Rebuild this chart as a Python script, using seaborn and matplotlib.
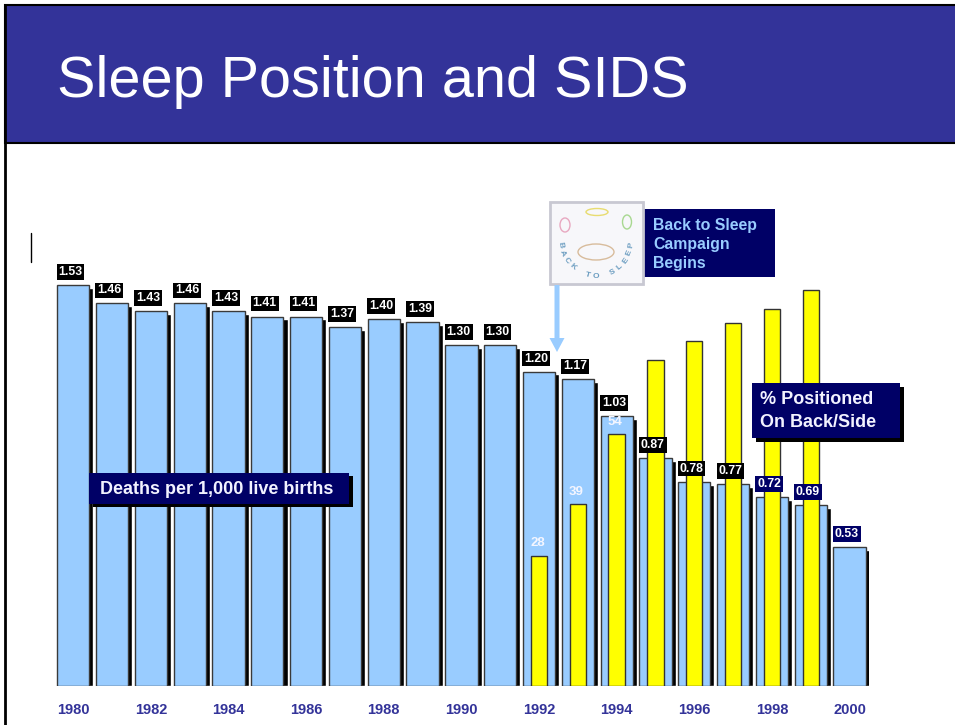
import numpy as np
import matplotlib
matplotlib.use("Agg")
import matplotlib.pyplot as plt
from matplotlib.patches import Rectangle, Ellipse
import seaborn as sns

# data
years = list(range(1980, 2001))
deaths = [1.53, 1.46, 1.43, 1.46, 1.43, 1.41, 1.41, 1.37, 1.40, 1.39, 1.30, 1.30,
          1.20, 1.17, 1.03, 0.87, 0.78, 0.77, 0.72, 0.69, 0.53]
pct_years = list(range(1992, 2000))
pct_back = [28, 39, 54, 70, 74, 78, 81, 85]
pct_shown = [1992, 1993, 1994]  # years whose % value is printed
title = "Sleep Position and SIDS"

sns.set_style("white")
plt.rcParams["font.family"] = ["Liberation Sans", "DejaVu Sans"]

W, H = 955, 725
fig = plt.figure(figsize=(W / 100, H / 100), dpi=100)

# main axes: baseline at y=686px, 262 px per death unit
base, top = 686, 150
ax = fig.add_axes([53.9 / W, (H - base) / H, 815 / W, (base - top) / H])
ylim1 = (base - top) / 262
ylim2 = (base - top) / 4.66

names = [str(y) for y in years]
n = len(years)
x = np.arange(n)

# black drop shadows
ax.bar(x + 0.105, np.array(deaths) - 0.011, width=0.83, color="black", zorder=0.5)
sns.barplot(x=names, y=deaths, order=names, color="#99CCFF", saturation=1,
            width=0.83, edgecolor="#3a3a3a", linewidth=1, ax=ax, zorder=1)
ax.set_xlim(-0.5, n - 0.5)
ax.set_ylim(0, ylim1)
ax.set_xticks(range(0, n, 2))
ax.set_xticklabels(names[::2], fontsize=10.5, fontweight="bold", color="#333399")
ax.tick_params(axis="x", length=0, pad=12)
ax.set_yticks([])
ax.set_xlabel("")
ax.set_ylabel("")
for s in ax.spines.values():
    s.set_visible(False)

# percent on back/side, twin axis
ax2 = ax.twinx()
sns.barplot(x=[str(y) for y in pct_years], y=pct_back, order=names, color="#FFFF00",
            saturation=1, width=0.42, edgecolor="#333333", linewidth=1, ax=ax2)
ax2.set_xlim(-0.5, n - 0.5)
ax2.set_ylim(0, ylim2)
ax2.set_yticks([])
ax2.set_xlabel("")
ax2.set_ylabel("")
ax2.tick_params(axis="x", length=0, labelbottom=False)
for s in ax2.spines.values():
    s.set_visible(False)

for i, (yr, v) in enumerate(zip(years, deaths)):
    box = "#000066" if yr >= 1998 else "black"
    ax2.text(i - 0.07, v + 0.05, f"{v:.2f}", transform=ax.transData,
             ha="center", va="center", fontsize=8.8, fontweight="bold", color="white",
             bbox=dict(boxstyle="square,pad=0.15", fc=box, ec="none"))

for yr, v in zip(pct_years, pct_back):
    if yr in pct_shown:
        ax2.text(years.index(yr) - 0.04, v + 2.6, str(v), ha="center", va="center",
                 fontsize=9.5, fontweight="bold", color="#F4F6FF")

# overlay in pixel coordinates for the slide decorations
ov = fig.add_axes([0, 0, 1, 1], zorder=5)
ov.set_xlim(0, W)
ov.set_ylim(H, 0)
ov.axis("off")
ov.patch.set_visible(False)

ov.add_patch(Rectangle((5, 5), 960, 138, fc="#333399", ec="black", lw=1.5))
ov.plot([5, 5], [5, H], color="black", lw=2)
ov.plot([31, 31], [233, 262], color="black", lw=1)
ov.text(57, 97, title, fontsize=41.5, color="white", ha="left", va="baseline")

# deaths label box
ov.add_patch(Rectangle((93, 476), 260, 31, fc="black", ec="none"))
ov.add_patch(Rectangle((89, 473), 260, 31, fc="#000066", ec="none"))
ov.text(100, 489, "Deaths per 1,000 live births", fontsize=13, fontweight="bold",
        color="#F2F2FF", ha="left", va="center")

# % positioned box
ov.add_patch(Rectangle((756, 387), 148, 55, fc="black", ec="none"))
ov.add_patch(Rectangle((752, 383), 148, 55, fc="#000066", ec="none"))
ov.text(760, 399, "% Positioned", fontsize=13, fontweight="bold",
        color="#F2F2FF", ha="left", va="center")
ov.text(760, 422, "On Back/Side", fontsize=13, fontweight="bold",
        color="#F2F2FF", ha="left", va="center")

# campaign box
ov.add_patch(Rectangle((644, 209), 131, 68, fc="#000066", ec="none"))
for yy, line in zip([225, 244, 263], ["Back to Sleep", "Campaign", "Begins"]):
    ov.text(653, yy, line, fontsize=11.4, fontweight="bold", color="#99CCFF",
            ha="left", va="center")

# logo
ov.add_patch(Rectangle((550, 202), 93, 82, fc="#F7F7FA", ec="#C8C8D2", lw=2))
ov.add_patch(Ellipse((596, 252), 36, 16, fc="none", ec="#D8BC9C", lw=1))
ov.add_patch(Ellipse((597, 212), 22, 7, fc="none", ec="#E8DC70", lw=1))
ov.add_patch(Ellipse((565, 225), 10, 14, fc="none", ec="#E8A8C0", lw=1))
ov.add_patch(Ellipse((627, 222), 9, 14, fc="none", ec="#A8D890", lw=1))
cx, cy, r = 596, 240, 36
letters = "BACK TO SLEEP"
for k, ch in enumerate(letters):
    phi = np.deg2rad(172 - 164 * k / (len(letters) - 1))
    ov.text(cx + r * np.cos(phi), cy + r * np.sin(phi), ch, fontsize=6,
            fontweight="bold", color="#6A9CC0", ha="center", va="center",
            rotation=90 - np.rad2deg(phi))

# arrow to 1992
ov.arrow(557, 285, 0, 67, width=5, head_width=15, head_length=14,
         length_includes_head=True, color="#99CCFF", ec="none")

fig.savefig("out.png", dpi=100)
